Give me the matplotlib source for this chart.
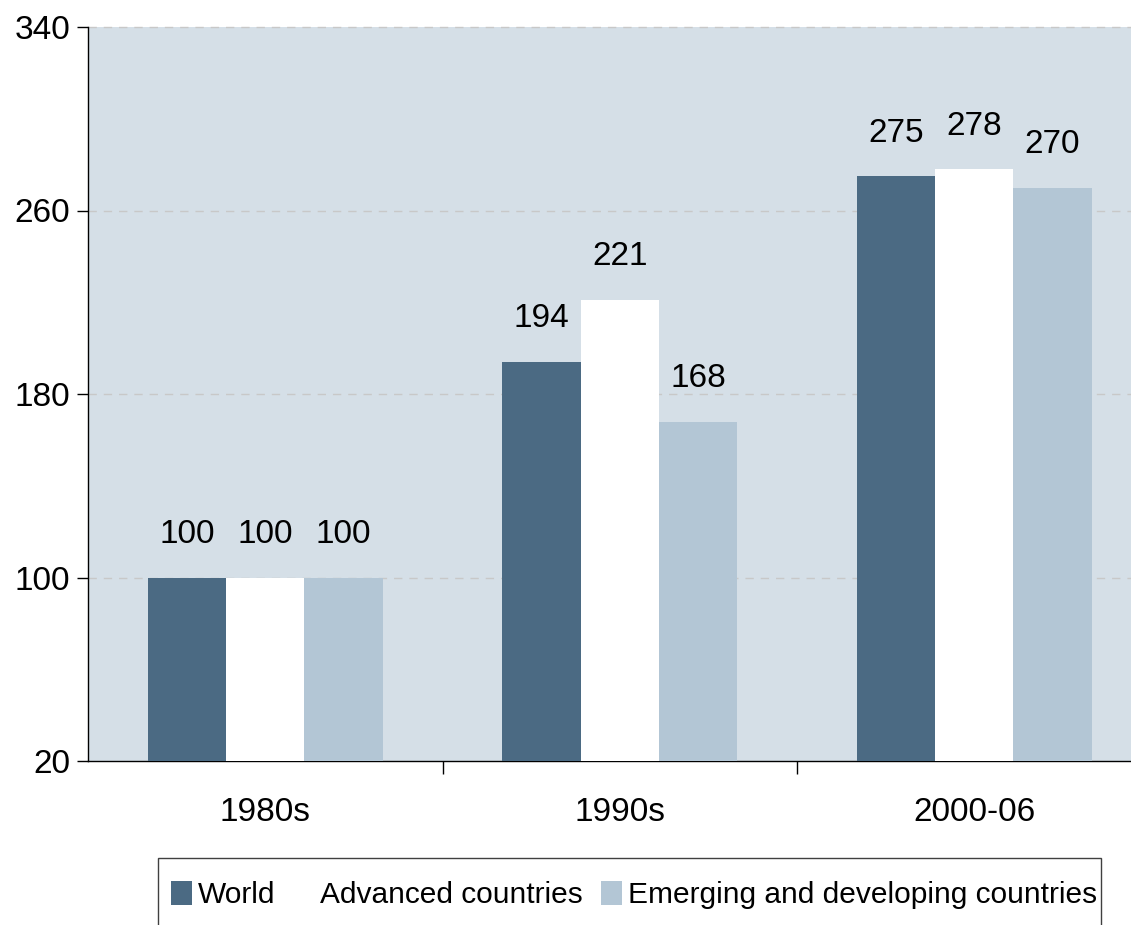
import matplotlib
matplotlib.use("Agg")
import matplotlib.pyplot as plt
from matplotlib.patches import Rectangle, Patch
import numpy as np

categories = ["1980s", "1990s", "2000-06"]
series_names = ["World", "Advanced countries", "Emerging and developing countries"]
world = [100, 194, 275]
advanced = [100, 221, 278]
emerging = [100, 168, 270]
yticks = [20, 100, 180, 260, 340]

colors = ["#4B6A83", "#FFFFFF", "#B3C6D5"]
bg = "#D5DFE7"

plt.rcParams['font.family'] = ['Liberation Sans', 'DejaVu Sans']
fs_tick, fs_lab, fs_leg = 24, 24, 21.5

fig = plt.figure(figsize=(11.31, 9.25), dpi=100)
ax = fig.add_axes([88/1131, 1-761/925, (1151.5-88)/1131, (761-27)/925])
ax.set_facecolor(bg)

x = np.arange(len(categories))
w = 0.221
offsets = [-w, 0, w]
data = [world, advanced, emerging]
for vals, off, c, name in zip(data, offsets, colors, series_names):
    ax.bar(x + off, [v - 20 for v in vals], bottom=20, width=w, color=c,
           edgecolor='none', label=name, zorder=3)
    for xi, v in zip(x, vals):
        ax.annotate(str(v), (xi + off, v), xytext=(0, 31), textcoords='offset points',
                    ha='center', va='center', fontsize=fs_lab, zorder=4)

ax.set_xlim(-0.5, 2.5)
ax.set_ylim(20, 340)
ax.set_yticks(yticks)
ax.set_yticklabels([str(t) for t in yticks], fontsize=fs_tick)
for t in yticks[1:]:
    ax.axhline(t, color='#C8C8C8', linestyle=(0, (6, 5)), linewidth=1, zorder=1, clip_on=False)

ax.set_xticks(x)
ax.set_xticklabels(categories, fontsize=fs_lab)
ax.set_xticks([0.5, 1.5], minor=True)
ax.tick_params(axis='x', which='major', length=0, pad=26)
ax.tick_params(axis='x', which='minor', length=9, width=1, direction='out')
ax.tick_params(axis='y', length=8, width=1, pad=5, direction='out')

for s in ['top', 'right']:
    ax.spines[s].set_visible(False)
for s in ['left', 'bottom']:
    ax.spines[s].set_color('black')
    ax.spines[s].set_linewidth(1)

# Legend frame
fig.patches.append(Rectangle((158/1131, -0.02), (1101-158)/1131, 1-858/925 + 0.02,
                             transform=fig.transFigure, facecolor='white',
                             edgecolor='#404040', linewidth=1))
handles = [Patch(facecolor=c, edgecolor='none') for c in colors]
leg = fig.legend(handles, series_names, loc='center left',
                 bbox_to_anchor=(171/1131, 1-895/925), ncol=3, frameon=False,
                 fontsize=fs_leg, handlelength=0.7, handleheight=0.9,
                 handletextpad=0.2, columnspacing=0.6, borderpad=0, borderaxespad=0)

fig.savefig("out.png", dpi=100)
